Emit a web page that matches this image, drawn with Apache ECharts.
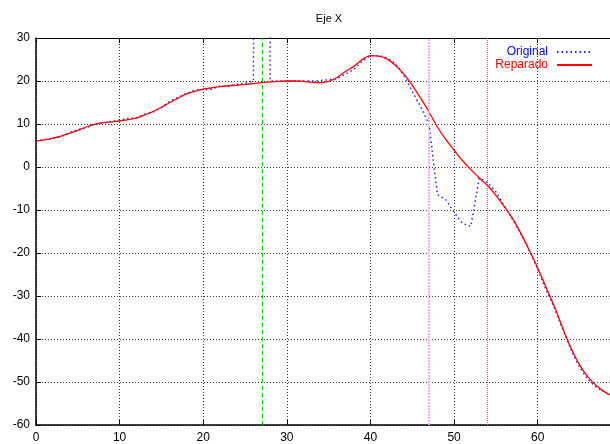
<!DOCTYPE html>
<html>
<head>
<meta charset="utf-8">
<script src="https://cdn.jsdelivr.net/npm/echarts@6/dist/echarts.min.js"></script>
<style>
html, body { margin: 0; padding: 0; background: #fff; }
#chart { width: 610px; height: 444px; }
</style>
</head>
<body>
<div id="chart"></div>
<script>
// muestras (x enteros)
const xValues = [
  0, 1, 2, 3, 4, 5, 6, 7, 8, 9, 10, 11, 12, 13, 14, 15, 16, 17, 18, 19,
  20, 21, 22, 23, 24, 25, 26, 27, 28, 29, 30, 31, 32, 33, 34, 35, 36, 37, 38, 39,
  40, 41, 42, 43, 44, 45, 46, 47, 48, 49, 50, 51, 52, 53, 54, 55, 56, 57, 58, 59,
  60, 61, 62, 63, 64, 65, 66, 67, 68, 69
];
// senal original (con el pico en 27 y el hueco 48-52)
const original = [
  6.0, 6.4, 6.6, 7.1, 8.0, 8.7, 9.1, 10.0, 10.2, 10.6,
  10.9, 11.3, 11.4, 12.3, 12.8, 13.8, 15.3, 16.2, 17.1, 17.9,
  18.0, 18.1, 18.8, 18.8, 19.2, 19.5, 20.0, 1000, 20.0, 20.0,
  19.9, 20.0, 20.0, 20.0, 20.1, 20.3, 20.5, 21.6, 22.7, 24.6,
  25.9, 25.9, 25.4, 24.0, 21.3, 17.6, 14.0, 10.0, -6.4, -7.6,
  -10.5, -13.1, -13.8, -2.6, -3.6, -5.8, -9.0, -12.2, -15.6, -19.4,
  -23.8, -28.6, -32.8, -37.8, -42.6, -46.6, -49.4, -51.2, -52.4, -53.4
];
// senal reparada
const reparado = [
  6.0, 6.3, 6.7, 7.2, 7.8, 8.5, 9.3, 9.9, 10.3, 10.5,
  10.7, 11.0, 11.4, 12.1, 12.9, 13.9, 15.0, 16.0, 17.0, 17.6,
  18.1, 18.4, 18.7, 18.9, 19.0, 19.2, 19.4, 19.6, 19.8, 19.9,
  20.0, 20.0, 19.9, 19.7, 19.6, 19.9, 20.8, 22.2, 23.4, 25.0,
  25.9, 25.8, 25.1, 23.6, 21.6, 19.0, 16.0, 12.8, 9.3, 6.4,
  3.9, 1.5, -0.6, -2.5, -4.3, -6.6, -9.2, -12.0, -15.5, -19.4,
  -23.5, -28.0, -32.5, -37.5, -42.2, -46.0, -48.8, -50.8, -52.3, -53.3
];
// marcas verticales: pico, inicio y fin del tramo malo
const glitchX = 27;
const gapStartX = 47;
const gapEndX = 54;

const toPairs = (ys) => ys.map((v, i) => [xValues[i], v]);

const font = "Liberation Sans, Arial, sans-serif";
const gridLine = { show: true, lineStyle: { color: "#333", type: [1, 2], width: 1 } };

// serie vacia que solo lleva una linea vertical
const vLine = (name, x, style) => ({
  name: name,
  type: "line",
  data: [],
  z: 1,
  silent: true,
  markLine: {
    symbol: "none",
    silent: true,
    animation: false,
    label: { show: false },
    lineStyle: style,
    data: [{ xAxis: x }]
  }
});

const myChart = echarts.init(document.getElementById("chart"));
const option = {
  backgroundColor: "#fff",
  animation: false,
  title: {
    text: "Eje X",
    left: 324,
    textAlign: "center",
    top: 8,
    textStyle: { fontFamily: font, fontSize: 11, fontWeight: "normal", color: "#000" }
  },
  legend: {
    orient: "vertical",
    right: 12,
    top: 41,
    align: "right",
    itemWidth: 35,
    itemHeight: 12,
    itemGap: 1,
    itemStyle: { opacity: 0 },
    data: [
      { name: "Original", textStyle: { color: "#0000ff" } },
      { name: "Reparado", textStyle: { color: "#ff0000" } }
    ],
    textStyle: { fontFamily: font, fontSize: 12, padding: [0, 4, 0, 0] }
  },
  // el marco sigue un poco mas alla del borde derecho de la imagen
  grid: { left: 36, width: 577, top: 38, bottom: 19, outerBoundsMode: "none" },
  xAxis: [
    {
      type: "value",
      min: 0,
      max: 69,
      interval: 10,
      axisLine: { show: true, onZero: false, lineStyle: { color: "#000", width: 1.5 } },
      axisTick: { show: true, inside: true, length: 5, lineStyle: { color: "#000" } },
      axisLabel: { color: "#000", fontFamily: font, fontSize: 12, margin: 7, showMaxLabel: false },
      splitLine: gridLine
    },
    {
      type: "value",
      position: "top",
      min: 0,
      max: 69,
      interval: 10,
      axisLine: { show: true, onZero: false, lineStyle: { color: "#000", width: 1.2 } },
      axisTick: { show: true, inside: true, length: 5, lineStyle: { color: "#000" } },
      axisLabel: { show: false },
      splitLine: { show: false }
    }
  ],
  yAxis: {
    type: "value",
    min: -60,
    max: 30,
    interval: 10,
    axisLine: { show: true, onZero: false, lineStyle: { color: "#000", width: 1.5 } },
    axisTick: { show: true, inside: true, length: 5, lineStyle: { color: "#000" } },
    axisLabel: { color: "#000", fontFamily: font, fontSize: 12, margin: 6 },
    splitLine: gridLine
  },
  series: [
    vLine("m27", glitchX, { color: "#00cc00", type: [4, 3], width: 1 }),
    vLine("m47", gapStartX, { color: "#ffa6ff", type: [2, 1], width: 2 }),
    vLine("m54", gapEndX, { color: "#f030f0", type: [1, 1], width: 1.2 }),
    {
      name: "Original",
      type: "line",
      data: toPairs(original),
      showSymbol: false,
      symbol: "none",
      z: 3,
      lineStyle: { color: "#2222ff", width: 1.5, type: [1.5, 3] },
      itemStyle: { color: "#2222ff" }
    },
    {
      name: "Reparado",
      type: "line",
      data: toPairs(reparado),
      showSymbol: false,
      symbol: "none",
      smooth: 0.3,
      z: 4,
      lineStyle: { color: "#ff0000", width: 1.3 },
      itemStyle: { color: "#ff0000" }
    }
  ]
};
myChart.setOption(option);
</script>
</body>
</html>
